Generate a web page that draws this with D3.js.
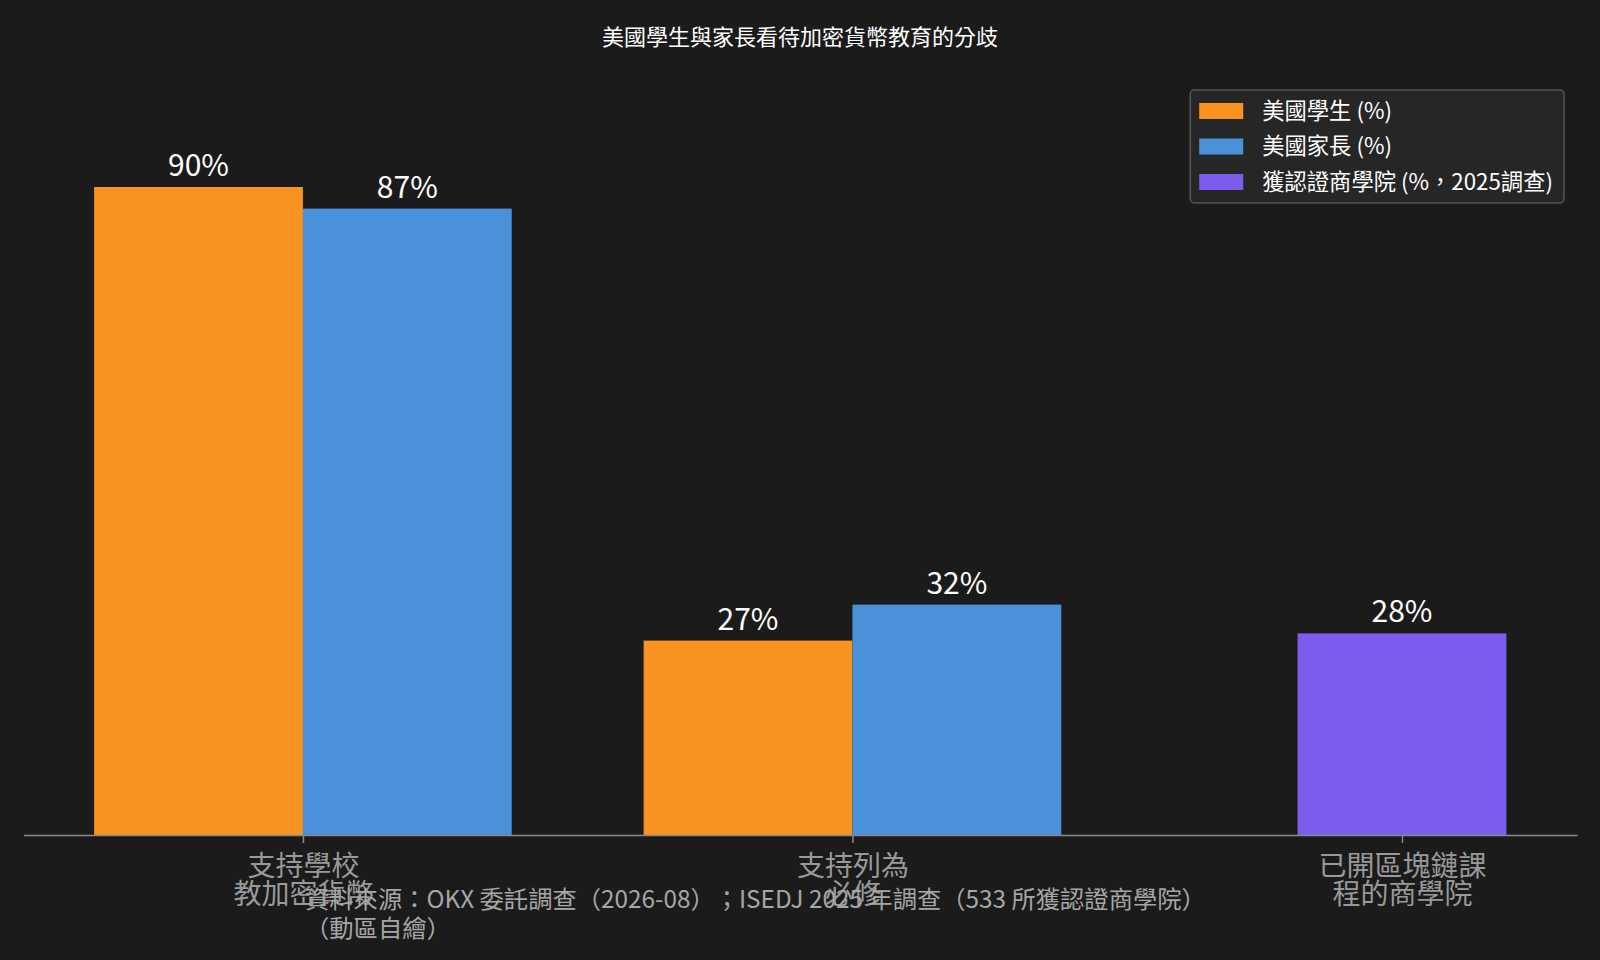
<!DOCTYPE html>
<html>
<head>
<meta charset="utf-8">
<script src="https://cdn.jsdelivr.net/npm/d3@7"></script>
<style>
  html, body { margin: 0; padding: 0; background: #1b1b1b; }
  text { font-family: "Noto Sans CJK TC", "Noto Sans", sans-serif; text-spacing-trim: space-all; font-feature-settings: "halt" 0, "palt" 0; }
</style>
</head>
<body>
<svg id="chart"></svg>
<script>
const categories = ["支持學校\n教加密貨幣", "支持列為\n必修", "已開區塊鏈課\n程的商學院"];
const students = [90, 27, null];
const parents = [87, 32, null];
const schools = [null, null, 28];
const seriesNames = ["美國學生 (%)", "美國家長 (%)", "獲認證商學院 (%，2025調查)"];
const seriesColors = ["#F7931E", "#4A90D9", "#7B5CEC"];
const title = "美國學生與家長看待加密貨幣教育的分歧";
const sourceLines = ["資料來源：OKX 委託調查（2026-08）；ISEDJ 2025 年調查（533 所獲認證商學院）", "（動區自繪）"];

const W = 1600, H = 960;
const margin = { top: 79, right: 23, bottom: 125, left: 23.5 };
const barW = 0.38;

const svg = d3.select("#chart").attr("width", W).attr("height", H);
svg.append("rect").attr("width", W).attr("height", H).attr("fill", "#1b1b1b");

const series = [students, parents, schools];

// build bars: center the present series inside each category
const bars = [];
categories.forEach((c, i) => {
  const present = series.map((s, k) => ({ k, v: s[i] })).filter(d => d.v != null);
  present.forEach((d, j) => {
    const off = (j - (present.length - 1) / 2) * barW;
    bars.push({ cat: i, series: d.k, value: d.v, xc: i + off });
  });
});

// x extent of the bars plus 5% padding on each side
const lo = d3.min(bars, d => d.xc - barW / 2);
const hi = d3.max(bars, d => d.xc + barW / 2);
const pad = (hi - lo) * 0.05;

const x = d3.scaleLinear()
  .domain([lo - pad, hi + pad])
  .range([margin.left, W - margin.right]);

const y = d3.scaleLinear()
  .domain([0, 105])
  .range([H - margin.bottom, margin.top]);

// title
svg.append("text")
  .attr("x", W / 2)
  .attr("y", 45)
  .attr("text-anchor", "middle")
  .attr("fill", "#ffffff")
  .style("font-size", "22px")
  .text(title);

// bars
svg.append("g").selectAll("rect")
  .data(bars)
  .enter().append("rect")
  .attr("x", d => x(d.xc - barW / 2))
  .attr("width", d => x(d.xc + barW / 2) - x(d.xc - barW / 2))
  .attr("y", d => y(d.value))
  .attr("height", d => y(0) - y(d.value))
  .attr("fill", d => seriesColors[d.series]);

// value labels
svg.append("g").selectAll("text")
  .data(bars)
  .enter().append("text")
  .attr("x", d => x(d.xc))
  .attr("y", d => y(d.value) - 11)
  .attr("text-anchor", "middle")
  .attr("fill", "#ffffff")
  .style("font-size", "30px")
  .text(d => d.value + "%");

// x axis
const xAxis = svg.append("g")
  .attr("transform", `translate(0,${y(0)})`)
  .call(d3.axisBottom(x)
    .tickValues(categories.map((c, i) => i))
    .tickSizeOuter(0)
    .tickSizeInner(8)
    .tickFormat(""));

xAxis.select(".domain").attr("stroke", "#8a8a8a").attr("stroke-width", 1.5);
xAxis.selectAll(".tick line").attr("stroke", "#8a8a8a").attr("stroke-width", 1.5);

xAxis.selectAll(".tick").each(function (d) {
  const t = d3.select(this).append("text")
    .attr("y", 41)
    .attr("text-anchor", "middle")
    .attr("fill", "#999999")
    .style("font-size", "28px");
  categories[d].split("\n").forEach((line, j) => {
    t.append("tspan").attr("x", 0).attr("dy", j === 0 ? 0 : 28).text(line);
  });
});

// source note
const src = svg.append("text")
  .attr("x", 305)
  .attr("y", 908)
  .attr("fill", "#a6a6a6")
  .style("font-size", "24.3px");
sourceLines.forEach((line, j) => {
  src.append("tspan").attr("x", 305).attr("dy", j === 0 ? 0 : 29).text(line);
});

// legend
const legend = svg.append("g");
const legBox = legend.append("rect")
  .attr("fill", "#262626")
  .attr("stroke", "#555555")
  .attr("stroke-width", 1.5)
  .attr("rx", 4);

const legRight = 1564, legTop = 90;
const rowH = 35.5;
const items = legend.selectAll(".item")
  .data(seriesNames)
  .enter().append("g")
  .attr("class", "item");

items.append("rect")
  .attr("width", 44)
  .attr("height", 16)
  .attr("y", -8)
  .attr("fill", (d, i) => seriesColors[i]);

items.append("text")
  .attr("x", 63)
  .attr("dy", "0.35em")
  .attr("fill", "#ffffff")
  .style("font-size", "22.3px")
  .text(d => d);

let maxLen = 0;
items.selectAll("text").each(function () {
  maxLen = Math.max(maxLen, this.getComputedTextLength());
});
const legW = 9 + 63 + maxLen + 11;
const legLeft = legRight - legW;
items.attr("transform", (d, i) => `translate(${legLeft + 9},${legTop + 21 + i * rowH})`);
legBox.attr("x", legLeft).attr("y", legTop).attr("width", legW).attr("height", 113);
</script>
</body>
</html>
